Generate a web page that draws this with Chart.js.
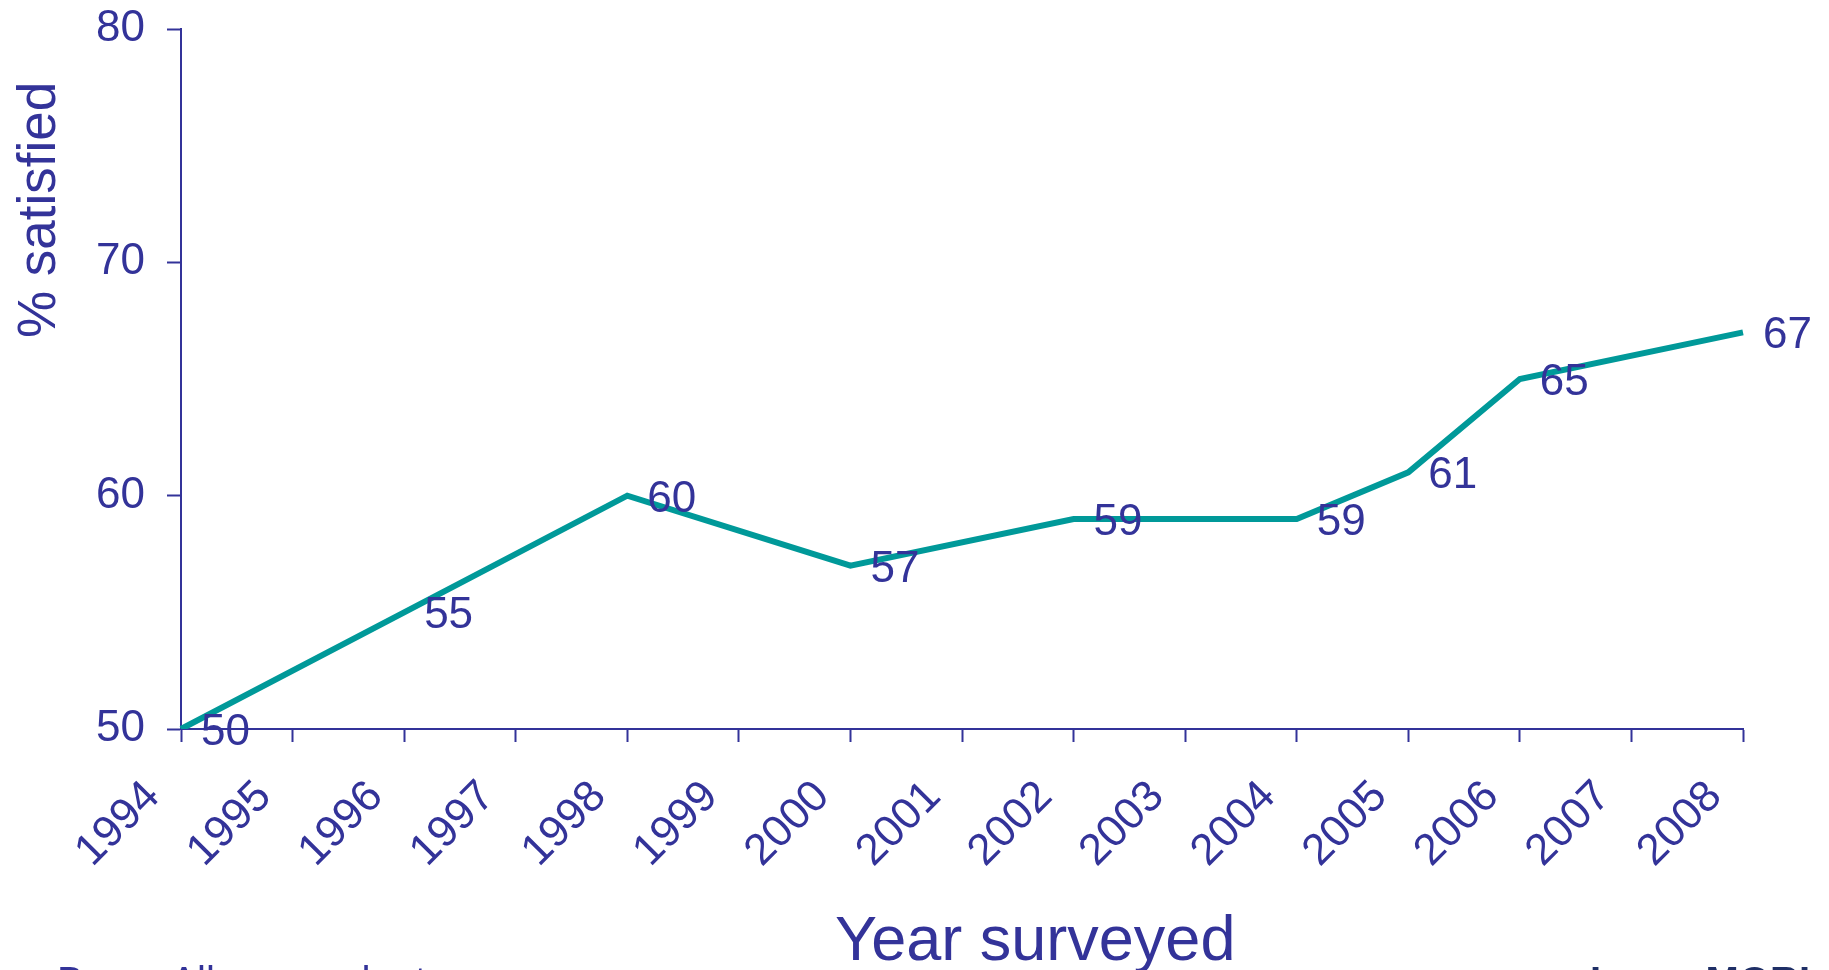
<!DOCTYPE html>
<html>
<head>
<meta charset="utf-8">
<title>% satisfied by year surveyed</title>
<script src="https://cdn.jsdelivr.net/npm/chart.js@4/dist/chart.umd.min.js"></script>
<style>
  html, body { margin: 0; padding: 0; background: #ffffff; overflow: hidden; }
  #wrap { position: relative; width: 1829px; height: 970px; }
</style>
</head>
<body>
<div id="wrap">
  <canvas id="satChart" width="1829" height="970"></canvas>
</div>
<script>
// year categories on the x axis
const years = ['1994', '1995', '1996', '1997', '1998', '1999', '2000', '2001',
               '2002', '2003', '2004', '2005', '2006', '2007', '2008'];
// % satisfied, only surveyed years have a value
const satisfied = [50, null, 55, null, 60, null, 57, null, 59, null, 59, 61, 65, null, 67];
// y axis ticks
const yTicks = [50, 60, 70, 80];

const navy = '#333399';
const teal = '#009999';
const fontFam = '"Liberation Sans", Arial, Helvetica, sans-serif';

// value labels just right of each point + titles + footer bits
const labelsPlugin = {
    id: 'labelsPlugin',
    afterDatasetsDraw(chart) {
        const ctx = chart.ctx;
        const meta = chart.getDatasetMeta(0);
        ctx.save();
        ctx.fillStyle = navy;
        ctx.font = '44px ' + fontFam;
        ctx.textAlign = 'left';
        ctx.textBaseline = 'alphabetic';
        meta.data.forEach((pt, i) => {
            const v = satisfied[i];
            if (v === null) return;
            ctx.fillText(String(v), pt.x + 20, pt.y + 16);
        });
        ctx.restore();
    },
    afterDraw(chart) {
        const ctx = chart.ctx;
        ctx.save();
        ctx.fillStyle = navy;
        // y title
        ctx.font = '53px ' + fontFam;
        ctx.translate(55, 338);
        ctx.rotate(-Math.PI / 2);
        ctx.textAlign = 'left';
        ctx.textBaseline = 'alphabetic';
        ctx.fillText('% satisfied', 0, 0);
        ctx.restore();

        ctx.save();
        ctx.fillStyle = navy;
        ctx.font = '63px ' + fontFam;
        ctx.textAlign = 'left';
        ctx.textBaseline = 'alphabetic';
        ctx.fillText('Year surveyed', 835, 960);
        // footer, mostly cut off at the bottom edge
        ctx.font = '40px ' + fontFam;
        ctx.fillText('Base: All respondents', 57, 995);
        ctx.fillStyle = '#1f2f66';
        ctx.font = 'bold 40px ' + fontFam;
        ctx.fillText('Ipsos MORI', 1590, 995);
        ctx.restore();
    }
};

const ctx = document.getElementById('satChart').getContext('2d');

const satChart = new Chart(ctx, {
    type: 'line',
    data: {
        labels: years,
        datasets: [{
            label: '% satisfied',
            data: satisfied,
            borderColor: teal,
            borderWidth: 6,
            pointRadius: 0,
            pointHoverRadius: 0,
            spanGaps: true,
            tension: 0,
            fill: false
        }]
    },
    options: {
        responsive: false,
        animation: false,
        layout: {
            padding: { top: 29, right: 86, left: 0, bottom: 0 }
        },
        plugins: {
            legend: { display: false },
            tooltip: { enabled: false }
        },
        scales: {
            x: {
                offset: false,
                grid: {
                    display: true,
                    drawOnChartArea: false,
                    drawTicks: true,
                    tickLength: 13,
                    tickWidth: 2,
                    color: navy
                },
                border: { display: true, color: navy, width: 2 },
                ticks: {
                    color: navy,
                    font: { family: fontFam, size: 44 },
                    minRotation: 45,
                    maxRotation: 45,
                    autoSkip: false,
                    padding: 29,
                    labelOffset: -28
                },
                afterFit(scale) {
                    scale.height = 241;
                    scale.paddingLeft = 0;
                    scale.paddingRight = 0;
                }
            },
            y: {
                min: 50,
                max: 80,
                afterBuildTicks(scale) {
                    scale.ticks = yTicks.map(v => ({ value: v }));
                },
                grid: {
                    display: true,
                    drawOnChartArea: false,
                    drawTicks: true,
                    tickLength: 14,
                    tickWidth: 2,
                    color: navy
                },
                border: { display: true, color: navy, width: 2 },
                ticks: {
                    color: navy,
                    font: { family: fontFam, size: 44 },
                    padding: 22
                },
                afterFit(scale) {
                    scale.width = 181;
                    scale.paddingTop = 0;
                    scale.paddingBottom = 0;
                }
            }
        }
    },
    plugins: [labelsPlugin]
});
</script>
</body>
</html>
